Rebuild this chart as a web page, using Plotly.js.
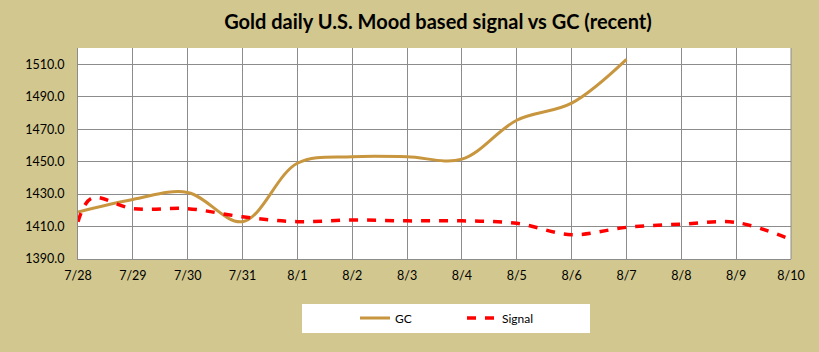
<!DOCTYPE html>
<html><head><meta charset="utf-8">
<script src="https://cdn.plot.ly/plotly-3.0.1.min.js"></script>
<style>html,body{margin:0;padding:0;background:#D1C78F;}#chart{width:819px;height:352px;}</style>
</head><body><div id="chart"></div>
<script>
// Tick labels (one per day)
const dayLabels = ['7/28','7/29','7/30','7/31','8/1','8/2','8/3','8/4','8/5','8/6','8/7','8/8','8/9','8/10'];
const dayIndex = [0,1,2,3,4,5,6,7,8,9,10,11,12,13];

// GC series (day offset, price)
const gcX = [0,1,2,3,4,5,6,7,8,9,10];
const gcY = [1419,1426.7,1431,1413,1449,1453,1453,1451.5,1475.5,1486,1513];

// Signal series (day offset, value)
const sigX = [0,0.25,1,2,3,4,5,6,7,8,9,10,11,12,13];
const sigY = [1413,1427.5,1421,1421,1416,1413,1414,1413.5,1413.5,1412,1405,1409.5,1411.5,1412.5,1402];

const yTicks = [1390,1410,1430,1450,1470,1490,1510];

const traces = [
  {x: gcX, y: gcY, name: 'GC', type: 'scatter', mode: 'lines',
   line: {color: '#C8963E', width: 3, shape: 'spline', smoothing: 1}},
  {x: sigX, y: sigY, name: 'Signal', type: 'scatter', mode: 'lines',
   line: {color: '#FF0000', width: 3.5, dash: '9px,9px', shape: 'spline', smoothing: 1}}
];

const layout = {
  width: 819, height: 352,
  paper_bgcolor: '#D1C78F', plot_bgcolor: '#FFFFFF',
  margin: {l: 78, r: 28, t: 48, b: 93},
  title: {text: 'Gold daily U.S. Mood based signal vs GC (recent)', x: 438/819, xanchor: 'center', y: 1 - 22/352, yanchor: 'middle',
          font: {family: 'Lato', size: 20, color: '#000', weight: 'bold'}},
  font: {family: 'Lato', size: 12, color: '#000'},
  xaxis: {range: [0, 13], tickvals: dayIndex, ticktext: dayLabels, showgrid: true, gridcolor: '#8C8C8C', gridwidth: 1,
          showline: true, linecolor: '#8C8C8C', linewidth: 1, zeroline: false, ticks: '', ticklen: 0, ticklabelstandoff: 5,
          tickfont: {family: 'Lato', size: 12.5, color: '#000'}, fixedrange: true},
  yaxis: {range: [1390, 1520], tickvals: yTicks, ticktext: yTicks.map(v => v.toFixed(1)), showgrid: true, gridcolor: '#8C8C8C', gridwidth: 1,
          showline: true, linecolor: '#8C8C8C', linewidth: 1, zeroline: false, ticks: '', ticklabelstandoff: 10,
          tickfont: {family: 'Lato', size: 12.5, color: '#000'}},
  showlegend: true,
  legend: {orientation: 'h', x: (355-78)/713, xanchor: 'left', y: -(318-259)/211, yanchor: 'middle', bgcolor: 'rgba(0,0,0,0)',
           font: {family: 'Lato', size: 12, color: '#000'}, entrywidth: 62},
  shapes: [
    {type: 'rect', xref: 'paper', yref: 'paper', x0: (302-78)/713, x1: (590-78)/713, y0: -(333-259)/211, y1: -(304-259)/211,
     fillcolor: '#FFFFFF', line: {width: 0}, layer: 'below'},
    {type: 'line', xref: 'paper', yref: 'paper', x0: 1, x1: 1, y0: 0, y1: 1, line: {color: '#8C8C8C', width: 1}}
  ]
};
Plotly.newPlot('chart', traces, layout, {displayModeBar: false, staticPlot: true});
</script></body></html>
